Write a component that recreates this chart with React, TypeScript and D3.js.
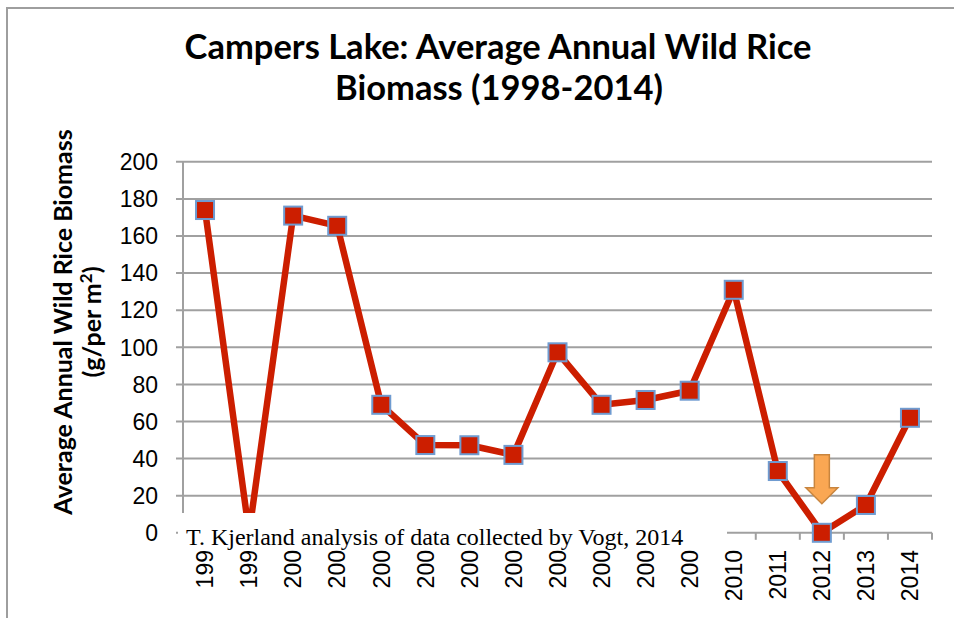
import React from "react";
import * as d3 from "d3";

const years = ["1998","1999","2000","2001","2002","2003","2004","2005","2006","2007","2008","2009","2010","2011","2012","2013","2014"];
const tickLabels = ["199","199","200","200","200","200","200","200","200","200","200","200","2010","2011","2012","2013","2014"];
const biomass = [174, 0, 171, 165.5, 69, 47.3, 47.2, 42, 97.3, 69, 71.6, 76.6, 131, 33.3, 0, 15, 62];
const yTicks = [0, 20, 40, 60, 80, 100, 120, 140, 160, 180, 200];
const titleLines = ["Campers Lake: Average Annual Wild Rice", "Biomass (1998-2014)"];
const yTitle = "Average Annual Wild Rice Biomass";
const sourceNote = "T. Kjerland analysis of data collected by Vogt, 2014";
const highlightYear = "2012";

const W = 954, H = 618;
const left = 183, right = 932, top = 161.8, bottom = 532.8;

export default function App() {
  const x = d3.scaleBand<string>().domain(years).range([left, right]).padding(0);
  const cx = (d: string) => (x(d) as number) + x.bandwidth() / 2;
  const y = d3.scaleLinear().domain([0, 200]).range([bottom, top]);
  const line = d3.line<number>().x((_, i) => cx(years[i])).y((v) => y(v));
  const grid = "#A0A0A0";
  const ax = cx(highlightYear);
  const tipY = y(0) - 29;
  const arrow = `M${ax - 7.5},${tipY - 49} L${ax + 7.5},${tipY - 49} L${ax + 7.5},${tipY - 16} L${ax + 16},${tipY - 16} L${ax},${tipY} L${ax - 16},${tipY - 16} L${ax - 7.5},${tipY - 16} Z`;
  const bounds = x.domain().map((d) => x(d) as number).concat([right]);
  return (
    <svg width={W} height={H} style={{ position: "absolute", left: 0, top: 0, background: "#fff" }}>
      <rect x={7} y={8} width={W + 20} height={H + 20} fill="#fff" stroke="#9E9E9E" strokeWidth={2} />
      <g fontFamily="Lato, 'Open Sans', sans-serif" fontWeight="bold" fontSize={34.5} textAnchor="middle" fill="#000">
        <text x={498} y={59}>{titleLines[0]}</text>
        <text x={499} y={100}>{titleLines[1]}</text>
      </g>
      <g fontFamily="Lato, 'Open Sans', sans-serif" fontWeight="bold" fontSize={25} textAnchor="middle" fill="#000">
        <text transform={`translate(72,322) rotate(-90)`}>{yTitle}</text>
        <text transform={`translate(101,322) rotate(-90)`}>(g/per m<tspan dy={-9} fontSize={17}>2</tspan><tspan dy={9}>)</tspan></text>
      </g>
      {yTicks.map((t) => (
        <g key={t}>
          <line x1={left - 7} x2={right} y1={y(t)} y2={y(t)} stroke={grid} strokeWidth={2} />
          <text x={158} y={y(t)} dy="0.36em" textAnchor="end" fontFamily="'Liberation Sans', Arial, sans-serif" fontSize={23} fill="#000">{t}</text>
        </g>
      ))}
      <line x1={left} x2={left} y1={top} y2={bottom} stroke={grid} strokeWidth={2} />
      {bounds.map((b, i) => (
        <line key={i} x1={b} x2={b} y1={bottom} y2={bottom + 7} stroke={grid} strokeWidth={2} />
      ))}
      <path d={line(biomass) || ""} fill="none" stroke="#CC1E00" strokeWidth={6.5} strokeLinejoin="round" />
      {biomass.map((v, i) => (
        <rect key={i} x={cx(years[i]) - 9} y={y(v) - 9} width={18} height={18} fill="#CC1E00" stroke="#6F9BD0" strokeWidth={2} />
      ))}
      <path d={arrow} fill="#FAA753" stroke="#C8853F" strokeWidth={1.5} />
      <rect x={178} y={513} width={549} height={37} fill="#fff" />
      <text x={186} y={545} fontFamily="'Liberation Serif', 'Times New Roman', serif" fontSize={24} fill="#000">{sourceNote}</text>
      {years.map((d, i) => (
        <text key={d} transform={`translate(${cx(d)},${550}) rotate(-90)`} dy="0.36em" textAnchor="end" fontFamily="'Liberation Sans', Arial, sans-serif" fontSize={23} fill="#000">{tickLabels[i]}</text>
      ))}
    </svg>
  );
}
